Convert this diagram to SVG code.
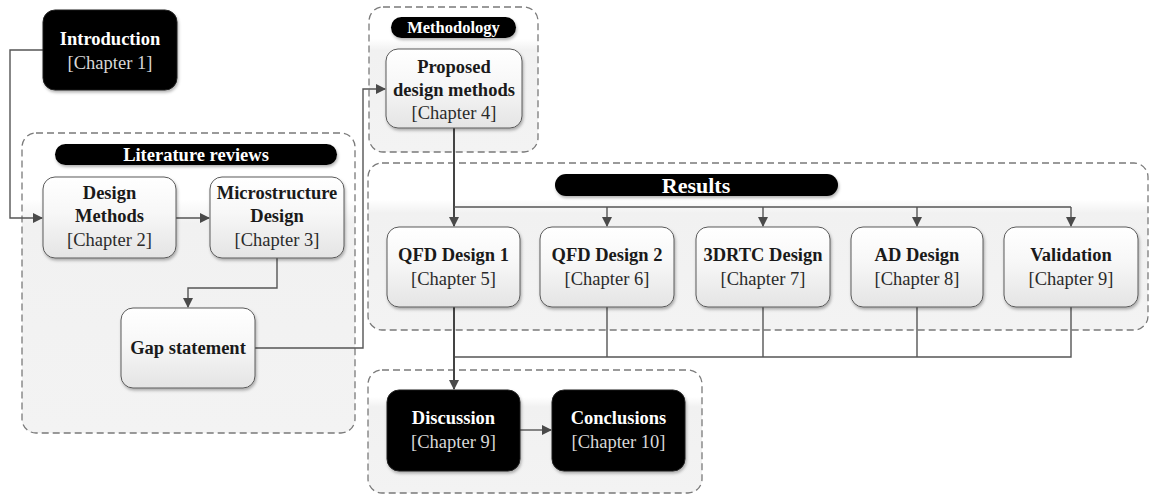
<svg xmlns="http://www.w3.org/2000/svg" width="1151" height="494" viewBox="0 0 1151 494">
  <defs>
    <linearGradient id="gBox" x1="0" y1="0" x2="0" y2="1">
      <stop offset="0" stop-color="#ffffff"/>
      <stop offset="0.45" stop-color="#f7f7f7"/>
      <stop offset="1" stop-color="#e4e4e4"/>
    </linearGradient>
    <linearGradient id="gGroup" x1="0" y1="0" x2="0" y2="1">
      <stop offset="0" stop-color="#ffffff"/>
      <stop offset="0.22" stop-color="#ffffff"/>
      <stop offset="0.3" stop-color="#f1f1f1"/>
      <stop offset="1" stop-color="#f3f3f3"/>
    </linearGradient>
    <filter id="shadow" x="-10%" y="-10%" width="125%" height="130%">
      <feDropShadow dx="1" dy="2" stdDeviation="1.5" flood-color="#000" flood-opacity="0.3"/>
    </filter>
    <marker id="arrow" viewBox="0 0 10 10" refX="9" refY="5" markerWidth="10" markerHeight="10" markerUnits="userSpaceOnUse" orient="auto">
      <path d="M0,0 L10,5 L0,10 z" fill="#4a4a4a"/>
    </marker>
    <style>
      .group { fill: url(#gGroup); stroke: #7a7a7a; stroke-width: 1.3; stroke-dasharray: 7 4; }
      .box { fill: url(#gBox); stroke: #5a5a5a; stroke-width: 1; filter: url(#shadow); }
      .dark { fill: #000; stroke: #222; stroke-width: 1; filter: url(#shadow); }
      .pill { fill: #000; filter: url(#shadow); }
      text { font-family: "Liberation Serif", "Times New Roman", serif; text-anchor: middle; }
      .t { font-size: 18.5px; font-weight: bold; fill: #1a1a1a; }
      .c { font-size: 18.5px; fill: #2a2a2a; }
      .tw { font-size: 18.5px; font-weight: bold; fill: #ffffff; }
      .cw { font-size: 18.5px; fill: #d8d8d8; }
      .pt { font-weight: bold; fill: #ffffff; }
      .link { fill: none; stroke: #555; stroke-width: 1.4; }
      .main { stroke-width: 2; stroke: #444; }
    </style>
  </defs>

  <!-- group frames -->
  <g id="grp-literature">
    <rect class="group" x="22" y="133" width="333" height="300" rx="14"/>
    <rect class="pill" x="55" y="144" width="282" height="21" rx="10.5"/>
    <text class="pt" x="196" y="161" font-size="18.5">Literature reviews</text>
  </g>
  <g id="grp-methodology">
    <rect class="group" x="369" y="7" width="169" height="145" rx="14"/>
    <rect class="pill" x="391" y="17" width="125" height="21" rx="10.5"/>
    <text class="pt" x="453.5" y="33" font-size="16.5">Methodology</text>
  </g>
  <g id="grp-results">
    <rect class="group" x="368" y="163" width="780" height="167" rx="14"/>
    <rect class="pill" x="555" y="174" width="283" height="22" rx="11"/>
    <text class="pt" x="696" y="193" font-size="22">Results</text>
  </g>
  <g id="grp-final">
    <rect class="group" x="368" y="370" width="334" height="123" rx="14"/>
  </g>

  <!-- connectors -->
  <g id="connectors">
    <polyline class="link" points="43,50 10,50 10,218 42,218" marker-end="url(#arrow)"/>
    <line class="link" x1="176" y1="218" x2="209" y2="218" marker-end="url(#arrow)"/>
    <polyline class="link" points="277,258 277,288 188,288 188,307" marker-end="url(#arrow)"/>
    <polyline class="link" points="255,348 363,348 363,89 385,89" marker-end="url(#arrow)"/>
    <polyline class="link main" points="454,128 454,226" marker-end="url(#arrow)"/>
    <polyline class="link" points="454,207 1071,207"/>
    <line class="link" x1="607" y1="207" x2="607" y2="226" marker-end="url(#arrow)"/>
    <line class="link" x1="763" y1="207" x2="763" y2="226" marker-end="url(#arrow)"/>
    <line class="link" x1="917" y1="207" x2="917" y2="226" marker-end="url(#arrow)"/>
    <line class="link" x1="1071" y1="207" x2="1071" y2="226" marker-end="url(#arrow)"/>
    <polyline class="link" points="607,307 607,357"/>
    <polyline class="link" points="763,307 763,357"/>
    <polyline class="link" points="917,307 917,357"/>
    <polyline class="link" points="1071,307 1071,357 454,357"/>
    <polyline class="link main" points="454,307 454,389" marker-end="url(#arrow)"/>
    <line class="link" x1="520" y1="430" x2="551" y2="430" marker-end="url(#arrow)"/>
  </g>

  <!-- nodes -->
  <g id="introduction">
    <rect class="dark" x="43" y="10" width="134" height="80" rx="12"/>
    <text class="tw" x="110" y="45">Introduction</text>
    <text class="cw" x="110" y="69">[Chapter 1]</text>
  </g>
  <g id="design-methods">
    <rect class="box" x="43" y="177" width="133" height="81" rx="12"/>
    <text class="t" x="109.5" y="199">Design</text>
    <text class="t" x="109.5" y="222">Methods</text>
    <text class="c" x="109.5" y="246">[Chapter 2]</text>
  </g>
  <g id="microstructure-design">
    <rect class="box" x="210" y="177" width="134" height="81" rx="12"/>
    <text class="t" x="277" y="199">Microstructure</text>
    <text class="t" x="277" y="222">Design</text>
    <text class="c" x="277" y="246">[Chapter 3]</text>
  </g>
  <g id="gap-statement">
    <rect class="box" x="121" y="308" width="134" height="80" rx="12"/>
    <text class="t" x="188" y="354">Gap statement</text>
  </g>
  <g id="proposed-methods">
    <rect class="box" x="386" y="49" width="136" height="79" rx="12"/>
    <text class="t" x="454" y="73">Proposed</text>
    <text class="t" x="454" y="96">design methods</text>
    <text class="c" x="454" y="119">[Chapter 4]</text>
  </g>
  <g id="qfd-design-1">
    <rect class="box" x="387" y="227" width="133" height="80" rx="12"/>
    <text class="t" x="453.5" y="261">QFD Design 1</text>
    <text class="c" x="453.5" y="285">[Chapter 5]</text>
  </g>
  <g id="qfd-design-2">
    <rect class="box" x="540" y="227" width="134" height="80" rx="12"/>
    <text class="t" x="607" y="261">QFD Design 2</text>
    <text class="c" x="607" y="285">[Chapter 6]</text>
  </g>
  <g id="drtc-design">
    <rect class="box" x="696" y="227" width="134" height="80" rx="12"/>
    <text class="t" x="763" y="261">3DRTC Design</text>
    <text class="c" x="763" y="285">[Chapter 7]</text>
  </g>
  <g id="ad-design">
    <rect class="box" x="851" y="227" width="132" height="80" rx="12"/>
    <text class="t" x="917" y="261">AD Design</text>
    <text class="c" x="917" y="285">[Chapter 8]</text>
  </g>
  <g id="validation">
    <rect class="box" x="1004" y="227" width="134" height="80" rx="12"/>
    <text class="t" x="1071" y="261">Validation</text>
    <text class="c" x="1071" y="285">[Chapter 9]</text>
  </g>
  <g id="discussion">
    <rect class="dark" x="387" y="390" width="133" height="81" rx="12"/>
    <text class="tw" x="453.5" y="424">Discussion</text>
    <text class="cw" x="453.5" y="448">[Chapter 9]</text>
  </g>
  <g id="conclusions">
    <rect class="dark" x="552" y="390" width="133" height="81" rx="12"/>
    <text class="tw" x="618.5" y="424">Conclusions</text>
    <text class="cw" x="618.5" y="448">[Chapter 10]</text>
  </g>
</svg>
